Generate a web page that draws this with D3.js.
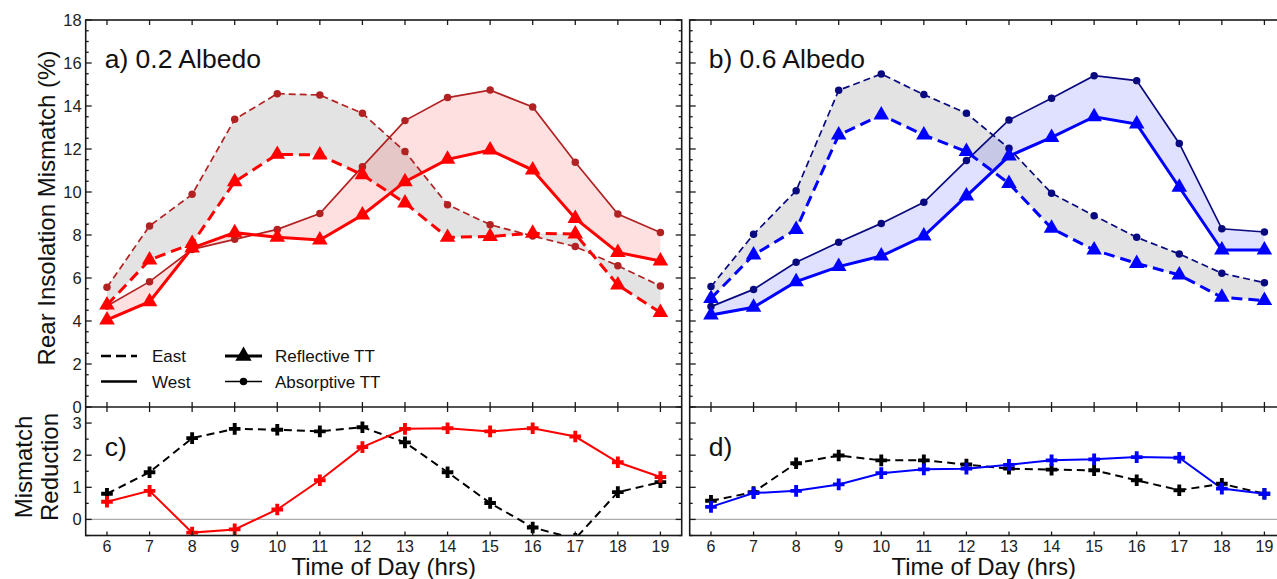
<!DOCTYPE html>
<html><head><meta charset="utf-8">
<script src="https://cdn.jsdelivr.net/npm/d3@7"></script>
<style>body{margin:0;background:#fff}svg{display:block;font-family:Arial,"Liberation Sans",sans-serif}</style>
</head><body><svg id="c" width="1277" height="579"></svg>
<script>
// ---------- data ----------
const hours=[6,7,8,9,10,11,12,13,14,15,16,17,18,19];
const yTicksTop=[0,2,4,6,8,10,12,14,16,18];
const yTicksBottom=[0,1,2,3];
// panel a (0.2 albedo)
const aEastAbs=[5.57,8.42,9.89,13.38,14.57,14.51,13.66,11.88,9.41,8.48,7.95,7.46,6.57,5.63];
const aEastRef=[4.74,6.84,7.6,10.48,11.75,11.72,10.8,9.49,7.89,7.93,8.08,8.05,5.67,4.39];
const aWestAbs=[4.7,5.83,7.33,7.8,8.26,9.0,11.18,13.32,14.39,14.74,13.95,11.38,8.98,8.12];
const aWestRef=[4.05,4.9,7.4,8.11,7.89,7.77,8.93,10.48,11.52,11.95,11.02,8.77,7.19,6.79];
// panel b (0.6 albedo)
const bEastAbs=[5.6,8.03,10.06,14.73,15.49,14.53,13.66,12.03,9.94,8.9,7.89,7.12,6.22,5.78];
const bEastRef=[5.05,7.07,8.26,12.65,13.58,12.65,11.88,10.4,8.31,7.3,6.68,6.14,5.1,4.95];
const bWestAbs=[4.67,5.47,6.73,7.66,8.54,9.52,11.46,13.35,14.36,15.41,15.18,12.26,8.29,8.14];
const bWestRef=[4.28,4.64,5.83,6.53,7.02,7.95,9.81,11.67,12.54,13.5,13.16,10.22,7.3,7.3];
// panel c, d (mismatch reduction)
const cEast=[0.8,1.47,2.53,2.82,2.79,2.74,2.87,2.4,1.47,0.51,-0.25,-0.6,0.85,1.16];
const cWest=[0.55,0.89,-0.41,-0.31,0.31,1.22,2.25,2.82,2.84,2.74,2.84,2.58,1.78,1.32];
const dEast=[0.58,0.85,1.75,1.99,1.84,1.84,1.71,1.58,1.55,1.53,1.22,0.91,1.11,0.8];
const dWest=[0.39,0.82,0.89,1.09,1.44,1.56,1.58,1.70,1.84,1.87,1.94,1.92,0.96,0.8];

// ---------- layout ----------
const svg=d3.select("#c");
const TOP0=20, MID=407, BOT=535.5;
const yTop=d3.scaleLinear().domain([0,18]).range([MID,TOP0]);
const yBot=d3.scaleLinear().domain([-0.5,3.5]).range([BOT,MID]);
const panels=[
  {x:d3.scaleLinear().domain([5.5,19.5]).range([85.7,681.7]), id:"a", title:"a) 0.2 Albedo", sub:"c)",
   eA:aEastAbs,eR:aEastRef,wA:aWestAbs,wR:aWestRef,dark:"#b22222",bright:"#ff0000",
   fill:"rgba(255,0,0,0.12)", rE:cEast, rW:cWest, labels:true},
  {x:d3.scaleLinear().domain([5.5,19.5]).range([689.7,1285.7]), id:"b", title:"b) 0.6 Albedo", sub:"d)",
   eA:bEastAbs,eR:bEastRef,wA:bWestAbs,wR:bWestRef,dark:"#0a0a80",bright:"#0000ff",
   fill:"rgba(0,0,255,0.12)", rE:dEast, rW:dWest, labels:false}
];
const grayFill="rgba(140,140,140,0.24)";
const frameCol="#1a1a1a";

panels.forEach(p=>{
  const x=p.x, x0=x.range()[0], x1=x.range()[1];
  const defs=svg.append("defs");
  defs.append("clipPath").attr("id","clipT"+p.id).append("rect")
    .attr("x",x0).attr("y",TOP0).attr("width",x1-x0).attr("height",MID-TOP0);
  defs.append("clipPath").attr("id","clipB"+p.id).append("rect")
    .attr("x",x0).attr("y",MID).attr("width",x1-x0).attr("height",BOT-MID);

  // ----- top panel -----
  const gT=svg.append("g").attr("clip-path","url(#clipT"+p.id+")");
  const area=(lo,hi)=>d3.area().x((d,i)=>x(hours[i])).y0((d,i)=>yTop(lo[i])).y1((d,i)=>yTop(hi[i]));
  gT.append("path").attr("d",area(p.eR,p.eA)(hours)).attr("fill",grayFill);
  gT.append("path").attr("d",area(p.wR,p.wA)(hours)).attr("fill",p.fill);
  const line=d3.line().x((d,i)=>x(hours[i])).y(d=>yTop(d));
  const series=[
    {v:p.eA,c:p.dark,w:1.7,dash:"7,4",m:"circle"},
    {v:p.wA,c:p.dark,w:1.7,dash:null,m:"circle"},
    {v:p.eR,c:p.bright,w:3,dash:"11,6",m:"tri"},
    {v:p.wR,c:p.bright,w:3,dash:null,m:"tri"}
  ];
  series.forEach(s=>{
    gT.append("path").attr("d",line(s.v)).attr("fill","none").attr("stroke",s.c)
      .attr("stroke-width",s.w).attr("stroke-dasharray",s.dash);
  });
  series.forEach(s=>{
    const sym=s.m==="circle"?d3.symbol(d3.symbolCircle,44):d3.symbol(d3.symbolTriangle,105);
    gT.selectAll(null).data(s.v).join("path").attr("d",sym)
      .attr("transform",(d,i)=>`translate(${x(hours[i])},${yTop(d)})`).attr("fill",s.c);
  });

  // ----- bottom panel -----
  const gB=svg.append("g").attr("clip-path","url(#clipB"+p.id+")");
  gB.append("line").attr("x1",x0).attr("x2",x1).attr("y1",yBot(0)).attr("y2",yBot(0))
    .attr("stroke","#aaa").attr("stroke-width",1.3);
  const lineB=d3.line().x((d,i)=>x(hours[i])).y(d=>yBot(d));
  gB.append("path").attr("d",lineB(p.rE)).attr("fill","none").attr("stroke","#000")
    .attr("stroke-width",2).attr("stroke-dasharray","8,5");
  gB.append("path").attr("d",lineB(p.rW)).attr("fill","none").attr("stroke",p.bright)
    .attr("stroke-width",2);
  const cross=d3.symbol(d3.symbolCross,75);
  gB.selectAll(null).data(p.rE).join("path").attr("d",cross)
    .attr("transform",(d,i)=>`translate(${x(hours[i])},${yBot(d)})`).attr("fill","#000");
  gB.selectAll(null).data(p.rW).join("path").attr("d",cross)
    .attr("transform",(d,i)=>`translate(${x(hours[i])},${yBot(d)})`).attr("fill",p.bright);

  // ----- frames & ticks -----
  const fr=svg.append("g").attr("stroke",frameCol).attr("fill","none");
  fr.append("rect").attr("x",x0).attr("y",TOP0).attr("width",x1-x0).attr("height",BOT-TOP0).attr("stroke-width",1.6);
  fr.append("line").attr("x1",x0).attr("x2",x1).attr("y1",MID).attr("y2",MID).attr("stroke-width",1.6);
  const tk=svg.append("g").attr("stroke",frameCol).attr("stroke-width",1.3);
  hours.forEach(h=>{
    const X=x(h);
    tk.append("line").attr("x1",X).attr("x2",X).attr("y1",TOP0).attr("y2",TOP0+5);
    tk.append("line").attr("x1",X).attr("x2",X).attr("y1",MID-5).attr("y2",MID+5);
    tk.append("line").attr("x1",X).attr("x2",X).attr("y1",BOT-4).attr("y2",BOT);
  });
  d3.range(0,18.01,0.5).forEach(v=>{
    const Y=yTop(v), L=(v%2===0)?6:3;
    tk.append("line").attr("x1",x0).attr("x2",x0+L).attr("y1",Y).attr("y2",Y);
    tk.append("line").attr("x1",x1-L).attr("x2",x1).attr("y1",Y).attr("y2",Y);
  });
  d3.range(-0.5,3.51,0.5).forEach(v=>{
    const Y=yBot(v), L=(Number.isInteger(v))?6:3;
    tk.append("line").attr("x1",x0).attr("x2",x0+L).attr("y1",Y).attr("y2",Y);
    tk.append("line").attr("x1",x1-L).attr("x2",x1).attr("y1",Y).attr("y2",Y);
  });

  // x tick labels & axis title
  svg.append("g").selectAll(null).data(hours).join("text")
    .attr("x",d=>x(d)).attr("y",552).attr("text-anchor","middle")
    .attr("font-size",16).attr("fill","#222").text(d=>d);
  svg.append("text").attr("x",(x0+x1)/2 - (p.labels?0:4)).attr("y",575).attr("text-anchor","middle")
    .attr("font-size",24).attr("fill","#111").text("Time of Day (hrs)");
  if(p.labels){
    svg.append("g").selectAll(null).data(yTicksTop).join("text")
      .attr("x",x0-4).attr("y",d=>yTop(d)+6).attr("text-anchor","end")
      .attr("font-size",16.5).attr("fill","#222").text(d=>d);
    svg.append("g").selectAll(null).data(yTicksBottom).join("text")
      .attr("x",x0-4).attr("y",d=>yBot(d)+6).attr("text-anchor","end")
      .attr("font-size",16.5).attr("fill","#222").text(d=>d);
  }
  svg.append("text").attr("x",x0+19).attr("y",68).attr("font-size",26.5).attr("fill","#111").text(p.title);
  svg.append("text").attr("x",x0+19).attr("y",456).attr("font-size",26.5).attr("fill","#111").text(p.sub);
});

// y axis titles
svg.append("text").attr("transform","translate(55,208) rotate(-90)").attr("text-anchor","middle")
  .attr("font-size",24).attr("fill","#111").text("Rear Insolation Mismatch (%)");
svg.append("text").attr("transform","translate(32,467) rotate(-90)").attr("text-anchor","middle")
  .attr("font-size",24).attr("fill","#111").text("Mismatch");
svg.append("text").attr("transform","translate(58,467) rotate(-90)").attr("text-anchor","middle")
  .attr("font-size",24).attr("fill","#111").text("Reduction");

// legend (panel a)
const lg=svg.append("g");
const legRows=[
  {x1:101,x2:137,y:356,dash:"10,5",w:2.5,m:null,t:"East",tx:152},
  {x1:101,x2:137,y:381.5,dash:null,w:2.5,m:null,t:"West",tx:152},
  {x1:225,x2:262,y:356,dash:null,w:3,m:"tri",t:"Reflective TT",tx:275},
  {x1:225,x2:262,y:381.5,dash:null,w:1.7,m:"circle",t:"Absorptive TT",tx:275}
];
legRows.forEach(r=>{
  lg.append("line").attr("x1",r.x1).attr("x2",r.x2).attr("y1",r.y).attr("y2",r.y)
    .attr("stroke","#000").attr("stroke-width",r.w).attr("stroke-dasharray",r.dash);
  if(r.m){
    const sym=r.m==="circle"?d3.symbol(d3.symbolCircle,44):d3.symbol(d3.symbolTriangle,115);
    lg.append("path").attr("d",sym).attr("transform",`translate(${(r.x1+r.x2)/2},${r.y})`).attr("fill","#000");
  }
  lg.append("text").attr("x",r.tx).attr("y",r.y+6).attr("font-size",17).attr("fill","#111").text(r.t);
});
</script></body></html>
